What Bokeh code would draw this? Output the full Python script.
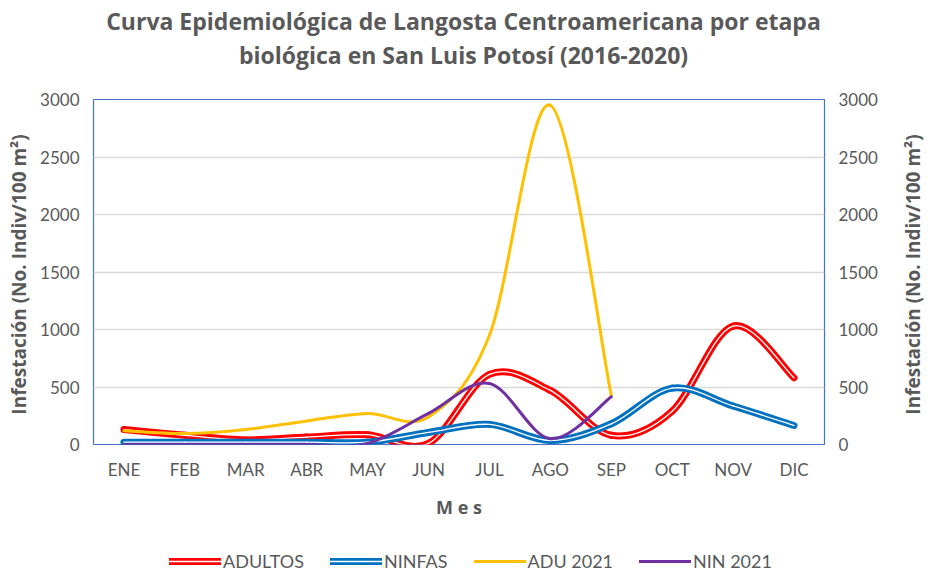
from bokeh.plotting import figure
from bokeh.models import (Range1d, LinearAxis, FixedTicker, Legend, LegendItem,
                          ColumnDataSource)
from bokeh.layouts import column, row
from bokeh.core.properties import value
from bokeh.embed import file_html
from bokeh.resources import INLINE

months = ["ENE", "FEB", "MAR", "ABR", "MAY", "JUN", "JUL", "AGO", "SEP", "OCT", "NOV", "DIC"]
adultos = [130, 80, 40, 65, 85, 10, 610, 470, 80, 290, 1030, 580]
ninfas = [20, 20, 20, 20, 20, 105, 175, 35, 180, 490, 335, 165]
adu2021 = [120, 95, 130, 205, 270, 240, 950, 2950, 425]
nin2021 = [0, 0, 0, 0, 10, 270, 530, 50, 415]
y_ticks = [0, 500, 1000, 1500, 2000, 2500, 3000]
title_lines = ["Curva Epidemiológica de Langosta Centroamericana por etapa",
               "biológica en San Luis Potosí (2016-2020)"]
ylabel = "Infestación  (No. Indiv/100 m²)"

GREY = "#595959"
FONT = "Lato"
BFONT = "Open Sans"
C_AD, C_NI, C_A21, C_N21 = "#FF0000", "#0070C0", "#FFC000", "#7030A0"

MAIN_W = 896
RIGHT_W = 30
HEAD_H = 89
TOTAL_H = 572
P_TOP, P_BOT = 10, 80


def blank(w, h, xr, yr):
    f = figure(width=w, height=h, output_backend="svg", toolbar_location=None,
               x_range=xr, y_range=yr, x_axis_location=None, y_axis_location=None,
               min_border=0, min_border_left=0, min_border_right=0,
               min_border_top=0, min_border_bottom=0)
    f.outline_line_color = None
    f.xgrid.visible = False
    f.ygrid.visible = False
    f.background_fill_color = "white"
    f.border_fill_color = "white"
    f.frame_align = False
    return f


# ---- header with the two-line title
head = blank(MAIN_W, HEAD_H, Range1d(0, MAIN_W), Range1d(0, HEAD_H))
head.text(x=[463, 463], y=[69, 35], text=title_lines,
          text_font=value(BFONT), text_font_style="bold", text_font_size="23px",
          text_color=GREY, text_align="center", text_baseline="middle")

# ---- main chart
p = figure(frame_width=731, frame_height=345, output_backend="svg", toolbar_location=None,
           x_range=Range1d(-0.5, 11.5), y_range=Range1d(0, 3000),
           min_border_left=93, min_border_right=72, min_border_top=P_TOP,
           min_border_bottom=P_BOT)
p.frame_align = False
p.outline_line_color = "#4472C4"
p.outline_line_width = 1.2
p.background_fill_color = "white"
p.border_fill_color = "white"


def bez(vals):
    n = len(vals)
    x0, y0, x1, y1, cx0, cy0, cx1, cy1 = [], [], [], [], [], [], [], []
    for i in range(n - 1):
        ip = max(i - 1, 0)
        inx = min(i + 2, n - 1)
        x0.append(i); y0.append(vals[i])
        x1.append(i + 1); y1.append(vals[i + 1])
        cx0.append(i + (i + 1 - ip) / 6.0)
        cy0.append(vals[i] + (vals[i + 1] - vals[ip]) / 6.0)
        cx1.append(i + 1 - (inx - i) / 6.0)
        cy1.append(vals[i + 1] - (vals[inx] - vals[i]) / 6.0)
    return ColumnDataSource(dict(x0=x0, y0=y0, x1=x1, y1=y1, cx0=cx0, cy0=cy0, cx1=cx1, cy1=cy1))


def curve(vals, color, width, inner=False):
    src = bez(vals)
    p.bezier(x0="x0", y0="y0", x1="x1", y1="y1", cx0="cx0", cy0="cy0", cx1="cx1", cy1="cy1",
             source=src, line_color=color, line_width=width, line_cap="round", line_join="round")
    if inner:
        p.bezier(x0="x0", y0="y0", x1="x1", y1="y1", cx0="cx0", cy0="cy0", cx1="cx1", cy1="cy1",
                 source=src, line_color="white", line_width=1.3, line_cap="round", line_join="round")


curve(adultos, C_AD, 7, inner=True)
curve(ninfas, C_NI, 7, inner=True)
curve(adu2021, C_A21, 3)
curve(nin2021, C_N21, 3)

p.yaxis.ticker = FixedTicker(ticks=y_ticks)
right = LinearAxis(ticker=FixedTicker(ticks=y_ticks))
p.add_layout(right, "right")
lax = p.yaxis[0]
lax.axis_label = ylabel
lax.axis_label_text_font = BFONT
lax.axis_label_text_font_style = "bold"
lax.axis_label_text_font_size = "19px"
lax.axis_label_text_color = GREY
lax.axis_label_standoff = 5

p.xaxis.ticker = FixedTicker(ticks=list(range(12)))
p.xaxis.major_label_overrides = {i: m for i, m in enumerate(months)}
p.xaxis.axis_label = "M e s"
p.xaxis.axis_label_text_font = BFONT
p.xaxis.axis_label_text_font_style = "bold"
p.xaxis.axis_label_text_font_size = "18px"
p.xaxis.axis_label_text_color = GREY
p.xaxis.axis_label_standoff = 12

for ax in p.xaxis + p.yaxis:
    ax.axis_line_color = None
    ax.major_tick_line_color = None
    ax.minor_tick_line_color = None
    ax.major_label_text_font = FONT
    ax.major_label_text_font_size = "17px"
    ax.major_label_text_color = GREY
    ax.major_label_standoff = 8

p.xgrid.grid_line_color = None
p.ygrid.ticker = FixedTicker(ticks=y_ticks)
p.ygrid.grid_line_color = "#D9D9D9"
p.ygrid.grid_line_width = 1.3

# ---- legend strip
LEG_H = TOTAL_H - HEAD_H - (P_TOP + 345 + P_BOT)
leg = blank(MAIN_W, LEG_H, Range1d(-0.5, 11.5), Range1d(-6000, -5000))
idx12 = list(range(12))
idx9 = list(range(9))


def proxy(xs, ys, color, width, inner=False):
    rs = [leg.line(x=xs, y=ys, line_color=color, line_width=width, line_cap="round")]
    if inner:
        rs.append(leg.line(x=xs, y=ys, line_color="white", line_width=1.3, line_cap="round"))
    return rs


items = [
    LegendItem(label="ADULTOS", renderers=proxy(idx12, adultos, C_AD, 7, True)),
    LegendItem(label="NINFAS", renderers=proxy(idx12, ninfas, C_NI, 7, True)),
    LegendItem(label="ADU 2021", renderers=proxy(idx9, adu2021, C_A21, 3)),
    LegendItem(label="NIN 2021", renderers=proxy(idx9, nin2021, C_N21, 3)),
]
legend = Legend(items=items, orientation="horizontal", location=(169, 0),
                label_text_font=FONT, label_text_font_size="18px", label_text_color=GREY,
                glyph_width=52, glyph_height=18, label_standoff=2, spacing=26,
                border_line_color=None, background_fill_alpha=0, margin=0, padding=0)
leg.add_layout(legend, "center")

# ---- right-hand axis title strip
rstrip = blank(RIGHT_W, TOTAL_H, Range1d(0, RIGHT_W), Range1d(0, TOTAL_H))
rstrip.text(x=[16], y=[300.5], text=[ylabel], angle=1.5707963,
            text_font=value(BFONT), text_font_style="bold", text_font_size="19px",
            text_color=GREY, text_align="center", text_baseline="middle")

layout = row(column(head, p, leg, spacing=0), rstrip, spacing=0)
open("out.html", "w").write(file_html(layout, INLINE))
